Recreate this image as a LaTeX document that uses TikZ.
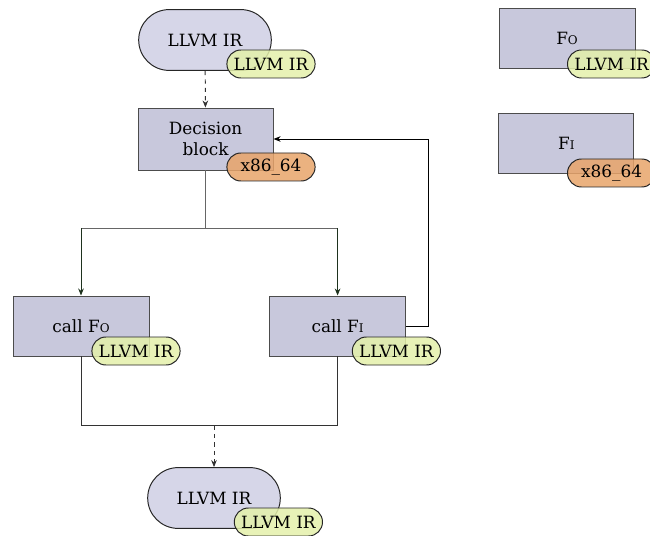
\documentclass[tikz,border=0pt]{standalone}
\usepackage{fontspec}
\setmainfont{DejaVu Serif}
\usetikzlibrary{shapes.misc,arrows.meta}

\definecolor{blockfill}{RGB}{200,200,220}
\definecolor{termfill}{RGB}{214,214,232}
\definecolor{irfill}{RGB}{228,240,170}
\definecolor{asmfill}{RGB}{232,164,106}
\definecolor{branchcol}{RGB}{30,50,30}

\tikzset{
  block/.style={draw=black!70, fill=blockfill, line width=0.7pt, minimum width=3.4cm, minimum height=1.5cm, align=center},
  term/.style={shape=rounded rectangle, draw=black!85, fill=termfill, line width=0.7pt, minimum width=3.5cm, minimum height=1.52cm},
  tag/.style={shape=rounded rectangle, draw=black!85, line width=0.7pt, minimum width=2.275cm, minimum height=0.7cm, inner sep=1pt, fill opacity=0.85, text opacity=1},
  irtag/.style={tag, fill=irfill},
  asmtag/.style={tag, fill=asmfill},
  flow/.style={line width=0.7pt, black!80},
}

\newcommand{\Fsub}[1]{F{\fontsize{8.5}{9}\selectfont #1}}

\begin{document}
\begin{tikzpicture}[font=\fontsize{12}{15.5}\selectfont, >={Stealth[length=5pt,width=4pt]}]
    \useasboundingbox (0, 0) rectangle (16.25, -13.4);
    % main flow
    \node[term, minimum width=3.55cm] (llvmin) at (5.125, -1.0) {LLVM IR};
    \node[block, minimum width=3.375cm, minimum height=1.55cm] (decide) at (5.14, -3.475) {Decision\\block};
    \node[block] (callFo) at (2.025, -8.15) {call \Fsub{O}};
    \node[block] (callFi) at (8.44, -8.15) {call \Fsub{I}};
    \node[term, minimum width=3.55cm] (llvmout) at (5.35, -12.45) {LLVM IR};
    % functions on the right
    \node[block] (Fo) at (14.175, -0.95) {\Fsub{O}};
    \node[block, minimum width=3.375cm] (Fi) at (14.16, -3.575) {\Fsub{I}};
    % tags
    \node[irtag] (tagin) at (6.775, -1.6) {LLVM IR};
    \node[asmtag] (tagdecide) at (6.775, -4.175) {x86\_64};
    \node[irtag] (tagFo) at (3.4, -8.775) {LLVM IR};
    \node[irtag] (tagFi) at (9.91, -8.775) {LLVM IR};
    \node[irtag] (tagout) at (6.96, -13.05) {LLVM IR};
    \node[irtag] (tagdefFo) at (15.29, -1.6) {LLVM IR};
    \node[asmtag] (tagdefFi) at (15.29, -4.325) {x86\_64};
    % connectors
    \draw[flow, dashed, ->] (llvmin) -- (decide);
    \draw[flow, black!60] (decide.south) -- ++(0, -1.45) coordinate (split);
    \draw[flow, black!60] (split -| callFo.north) -- (split -| callFi.north);
    \draw[flow, branchcol, ->] (split -| callFo.north) -- (callFo.north);
    \draw[flow, branchcol, ->] (split -| callFi.north) -- (callFi.north);
    \draw[flow, black, ->] (callFi.east) -- ++(0.55, 0) |- (decide.east);
    \draw[flow] (callFo.south) -- ++(0, -1.725) coordinate (join) -| (callFi.south);
    \draw[flow, dashed, ->] (join -| llvmout.north) -- (llvmout.north);
  \end{tikzpicture}
\end{document}
